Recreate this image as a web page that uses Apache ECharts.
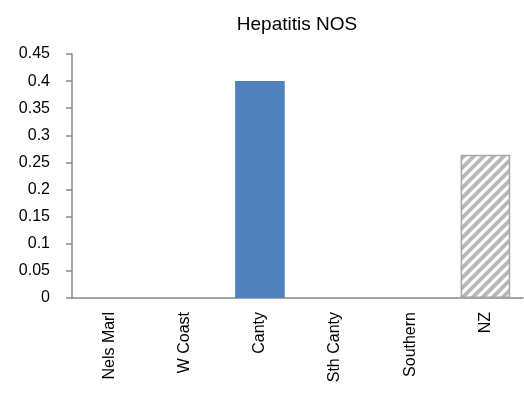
<!DOCTYPE html>
<html>
<head>
<meta charset="utf-8">
<script src="https://cdn.jsdelivr.net/npm/echarts@6/dist/echarts.min.js"></script>
<style>
html,body{margin:0;padding:0;background:#fff;}
#main{width:524px;height:403px;}
</style>
</head>
<body>
<div id="main"></div>
<script>
var categories = ['Nels Marl', 'W Coast', 'Canty', 'Sth Canty', 'Southern', 'NZ'];
var values = [0, 0, 0.4, 0, 0, 0.264];
var yTicks = [0, 0.05, 0.1, 0.15, 0.2, 0.25, 0.3, 0.35, 0.4, 0.45];

// hatch pattern for the NZ bar
function makeHatch(){
    var c = document.createElement('canvas');
    c.width = 10; c.height = 10;
    var ctx = c.getContext('2d');
    ctx.fillStyle = '#fff';
    ctx.fillRect(0, 0, 10, 10);
    ctx.strokeStyle = '#b8b8b8';
    ctx.lineWidth = 3.8;
    ctx.beginPath();
    ctx.moveTo(-5, 5); ctx.lineTo(5, -5);
    ctx.moveTo(0, 10); ctx.lineTo(10, 0);
    ctx.moveTo(5, 15); ctx.lineTo(15, 5);
    ctx.stroke();
    return c;
}
var hatch = makeHatch();

var barData = values.map(function(v, i){
    if (categories[i] == 'NZ') {
        return {value: v, itemStyle: {color: {image: hatch, repeat: 'repeat'}, borderColor: '#a6a6a6', borderWidth: 1.5}};
    }
    return {value: v, itemStyle: {color: '#4f81bd'}};
});

var myChart = echarts.init(document.getElementById('main'));
var font = '"Liberation Sans", Arial, sans-serif';
option = {
    animation: false,
    title: {
        text: 'Hepatitis NOS',
        left: 292,
        textAlign: 'center',
        top: 10,
        textStyle: {fontFamily: font, fontSize: 19, fontWeight: 'normal', color: '#000'}
    },
    grid: {left: 72, right: 1, top: 54, bottom: 105},
    xAxis: {
        type: 'category',
        data: categories,
        axisLine: {lineStyle: {color: '#888', width: 1.5}},
        axisTick: {show: false},
        axisLabel: {rotate: 90, margin: 14, fontFamily: font, fontSize: 16, color: '#000'}
    },
    yAxis: {
        type: 'value',
        min: 0,
        max: yTicks[yTicks.length - 1],
        interval: 0.05,
        splitLine: {show: false},
        axisLine: {show: true, lineStyle: {color: '#888', width: 1.5}},
        axisTick: {show: true, length: 6, lineStyle: {color: '#888', width: 1.5}},
        axisLabel: {margin: 22, fontFamily: font, fontSize: 16, color: '#000',
            formatter: function(v){ return String(+v.toFixed(2)); }}
    },
    series: [{
        type: 'bar',
        barWidth: '66%',
        data: barData
    }]
};
myChart.setOption(option, true);
</script>
</body>
</html>
